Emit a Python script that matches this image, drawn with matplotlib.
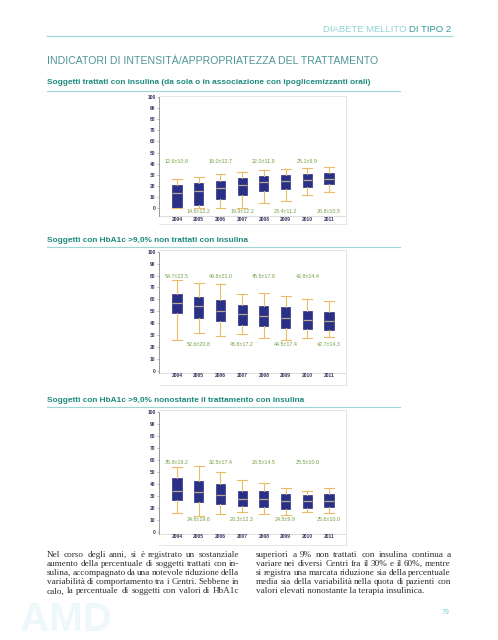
import matplotlib.pyplot as plt

W, H = 498, 640

years = ['2004', '2005', '2006', '2007', '2008', '2009', '2010', '2011']
pos = [1, 2, 3, 4, 5, 6, 7, 8]

# Soggetti trattati con insulina
ins_lo = [0, 0, 0, 0, 4.5, 6, 12, 14.7]
ins_q1 = [0, 2.7, 7.8, 11.7, 15.6, 17.4, 18.9, 21.3]
ins_med = [13.8, 15.6, 18.3, 20.7, 23.4, 24.6, 25.5, 26.4]
ins_q3 = [20.4, 22.8, 24.6, 27, 28.8, 29.7, 30.6, 31.5]
ins_hi = [26.4, 28, 30.6, 32.7, 34.5, 35.4, 36, 37.2]
ins_labels = ['12.9±10.8', '14.6±12.2', '18.0±12.7', '19.9±12.2',
              '22.0±11.9', '23.4±11.2', '25.1±9.9', '26.8±10.5']

# HbA1c > 9,0% non trattati con insulina
non_lo = [25.6, 32, 29.2, 30.9, 27.3, 25.6, 27.2, 28.7]
non_q1 = [48.3, 44.7, 42.1, 38.5, 37.4, 35.7, 34.8, 34.6]
non_med = [57.3, 54.5, 50.3, 47.8, 46, 44.1, 42.4, 41.9]
non_q3 = [64.9, 62.1, 59.6, 55.6, 54.2, 53.7, 50.6, 49.7]
non_hi = [76.4, 73.9, 72.8, 64.6, 65.2, 63.2, 60.4, 59]
non_labels = ['54.7±22.5', '52.6±20.8', '49.8±21.0', '46.8±17.2',
              '45.5±17.8', '44.5±17.4', '42.8±14.4', '42.7±14.3']

# HbA1c > 9,0% nonostante insulina
nst_lo = [15.6, 13.4, 15.1, 16.2, 14.5, 13.7, 16.2, 15.9]
nst_q1 = [26.8, 24.6, 23.2, 21.2, 20.9, 19.3, 20.1, 20.7]
nst_med = [34.1, 33, 30.7, 27.7, 27.7, 25.4, 25.7, 25.4]
nst_q3 = [45.3, 42.2, 39.9, 34.4, 34.4, 31.3, 30.7, 31.6]
nst_hi = [54.2, 54.7, 49.7, 43.6, 41.1, 36.6, 34.1, 36.6]
nst_labels = ['35.8±19.2', '34.6±19.6', '32.5±17.4', '28.3±12.3',
              '28.5±14.5', '24.5±9.9', '25.5±10.0', '25.6±10.0']

left_col = [
    'Nel corso degli anni, si è registrato un sostanziale',
    'aumento della percentuale di soggetti trattati con in-',
    'sulina, accompagnato da una notevole riduzione della',
    'variabilità di comportamento tra i Centri. Sebbene in',
    'calo, la percentuale di soggetti con valori di HbA1c',
]
right_col = [
    'superiori a 9% non trattati con insulina continua a',
    'variare nei diversi Centri fra il 30% e il 60%, mentre',
    'si registra una marcata riduzione sia della percentuale',
    'media sia della variabilità nella quota di pazienti con',
    'valori elevati nonostante la terapia insulinica.',
]

NAVY = '#2b3087'
GOLD = '#ebbb66'
MED = '#b9ab8e'
GREEN = '#74a046'
TEAL = '#1f8a7e'
LINE = '#9fd6d6'

plt.rcParams['font.family'] = ['Liberation Sans', 'DejaVu Sans']


def fx(x):
    return x / W


def fy(y):
    return 1 - y / H


fig = plt.figure(figsize=(W / 100, H / 100), dpi=100)
fig.patch.set_facecolor('white')


def draw_chart(top, bottom, ylim, axis_y, year_y, up_y, down_y,
               lo, q1, med, q3, hi, labels):
    ax = fig.add_axes([fx(159), fy(bottom), fx(346) - fx(159), (bottom - top) / H])
    stats = [dict(whislo=a, q1=b, med=c, q3=d, whishi=e)
             for a, b, c, d, e in zip(lo, q1, med, q3, hi)]
    ax.bxp(stats, positions=pos, widths=0.42, capwidths=0.45, showfliers=False,
           patch_artist=True,
           boxprops=dict(facecolor=NAVY, edgecolor=NAVY, lw=0.5),
           medianprops=dict(color=MED, lw=0.9),
           whiskerprops=dict(color=GOLD, lw=0.8),
           capprops=dict(color=GOLD, lw=0.8))
    ax.set_xlim(0.17, 8.78)
    ax.set_ylim(*ylim)
    ax.set_yticks(range(0, 101, 10))
    ax.tick_params(axis='y', labelsize=3.5, labelcolor='#33335a', length=1.2,
                   width=0.4, color='#888888', pad=1.2)
    for lab in ax.get_yticklabels():
        lab.set_fontweight('bold')
    ax.set_xticks([])
    for s in ['top', 'right', 'bottom']:
        ax.spines[s].set_color('#dcdcdc')
        ax.spines[s].set_linewidth(0.5)
    ax.spines['left'].set_color('#8a8a8a')
    ax.spines['left'].set_linewidth(0.6)
    ax.spines['left'].set_bounds(axis_y, 100)
    ax.axhline(axis_y, color='#d0d0d0', lw=0.5)
    for i, p in enumerate(pos):
        ax.text(p, year_y, years[i], ha='center', va='center', fontsize=3.5,
                fontweight='bold', color='#33335a')
        ax.text(p, up_y if i % 2 == 0 else down_y, labels[i], ha='center',
                va='center', fontsize=3.9, color=GREEN)
    return ax


draw_chart(96, 224, (-14.4, 100.9), -7, -10, 41.5, -3.5,
           ins_lo, ins_q1, ins_med, ins_q3, ins_hi, ins_labels)
draw_chart(250, 385, (-11.8, 101.4), -1.5, -4, 79, 22,
           non_lo, non_q1, non_med, non_q3, non_hi, non_labels)
draw_chart(410, 545, (-11.1, 101.9), -1.5, -4, 58, 10,
           nst_lo, nst_q1, nst_med, nst_q3, nst_hi, nst_labels)

# page header
renderer = fig.canvas.get_renderer()
t2 = fig.text(fx(451), fy(29), 'DI TIPO 2', ha='right', va='center',
              fontsize=6.8, color='#2f9898')
bb = t2.get_window_extent(renderer)
fig.text(bb.x0 / W, fy(29), 'DIABETE MELLITO ', ha='right', va='center',
         fontsize=6.8, color='#93d2d2')


def hline(y, x0, x1, lw=0.9):
    fig.add_artist(plt.Line2D([fx(x0), fx(x1)], [fy(y), fy(y)], color=LINE, lw=lw))


hline(36, 47, 452)
fig.text(fx(47), fy(61), 'INDICATORI DI INTENSITÀ/APPROPRIATEZZA DEL TRATTAMENTO',
         ha='left', va='center', fontsize=7.6, color='#4f9596')

subs = [(82, 91, 'Soggetti trattati con insulina (da sola o in associazione con ipoglicemizzanti orali)'),
        (240, 247, 'Soggetti con HbA1c >9,0% non trattati con insulina'),
        (400, 407, 'Soggetti con HbA1c >9,0% nonostante il trattamento con insulina')]
for ty, ly, s in subs:
    fig.text(fx(47), fy(ty), s, ha='left', va='center', fontsize=5.95,
             fontweight='bold', color=TEAL)
    hline(ly, 47, 400, lw=0.8)

# watermark and page number
fig.text(fx(20), fy(620), 'AMD', ha='left', va='center', fontsize=29,
         fontweight='bold', color='#eef8fa', zorder=0)
fig.text(fx(450), fy(612), '79', ha='right', va='center', fontsize=5,
         color='#7fc8c8')

BODY = 6.55


def justified(lines, x0, x1, y0, step, last_free):
    for k, line in enumerate(lines):
        y = fy(y0 + k * step)
        words = line.split(' ')
        if last_free and k == len(lines) - 1:
            fig.text(fx(x0), y, line, ha='left', va='center', fontsize=BODY,
                     family='Liberation Serif', color='#2b2b2b')
            continue
        arts = [fig.text(0, y, w, ha='left', va='center', fontsize=BODY,
                         family='Liberation Serif', color='#2b2b2b') for w in words]
        widths = [a.get_window_extent(renderer).width for a in arts]
        gap = (x1 - x0 - sum(widths)) / (len(words) - 1)
        x = x0
        for a, wd in zip(arts, widths):
            a.set_x(fx(x))
            x += wd + gap


justified(left_col, 47, 239, 555, 9.1, False)
justified(right_col, 256, 451, 555, 9.1, True)

fig.savefig('out.png', dpi=100, facecolor='white')
